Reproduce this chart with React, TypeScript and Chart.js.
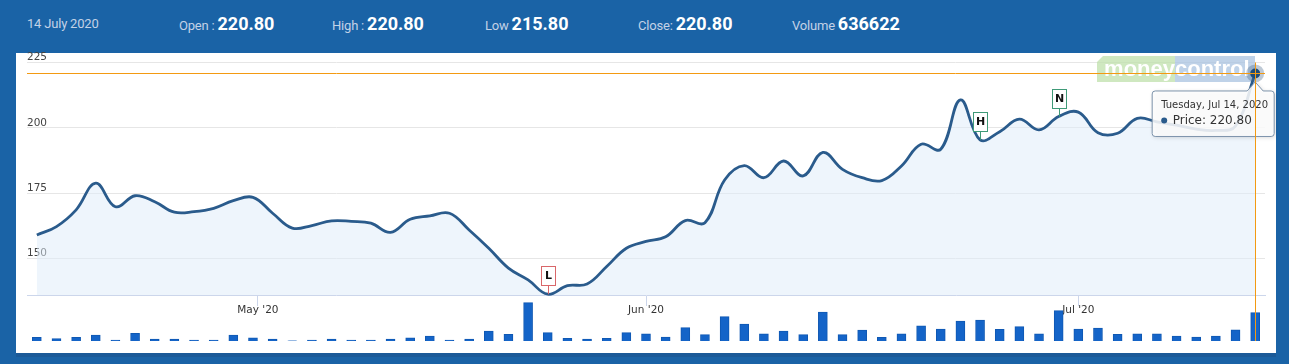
import React, { useEffect, useRef } from 'react';
import { Chart, registerables } from 'chart.js';

Chart.register(...registerables);

// ---------- data ----------
const tradingDates: string[] = [
  '2020-04-15', '2020-04-16', '2020-04-17', '2020-04-20', '2020-04-21', '2020-04-22', '2020-04-23', '2020-04-24',
  '2020-04-27', '2020-04-28', '2020-04-29', '2020-04-30',
  '2020-05-04', '2020-05-05', '2020-05-06', '2020-05-07', '2020-05-08', '2020-05-11', '2020-05-12', '2020-05-13',
  '2020-05-14', '2020-05-15', '2020-05-18', '2020-05-19', '2020-05-20', '2020-05-21', '2020-05-22', '2020-05-26',
  '2020-05-27', '2020-05-28', '2020-05-29',
  '2020-06-01', '2020-06-02', '2020-06-03', '2020-06-04', '2020-06-05', '2020-06-08', '2020-06-09', '2020-06-10',
  '2020-06-11', '2020-06-12', '2020-06-15', '2020-06-16', '2020-06-17', '2020-06-18', '2020-06-19', '2020-06-22',
  '2020-06-23', '2020-06-24', '2020-06-25', '2020-06-26', '2020-06-29', '2020-06-30',
  '2020-07-01', '2020-07-02', '2020-07-03', '2020-07-06', '2020-07-07', '2020-07-08', '2020-07-09', '2020-07-10',
  '2020-07-13', '2020-07-14',
];

const closePrices: number[] = [
  159.0, 162.2, 168.6, 178.8, 169.8, 174.0, 171.7, 167.7, 167.9, 169.2, 172.1, 173.4,
  167.3, 161.6, 162.6, 164.4, 164.2, 163.5, 160.0, 165.0, 166.3, 167.3, 160.9, 153.9,
  146.3, 141.8, 136.3, 139.6, 140.2, 146.9, 153.9,
  156.5, 158.3, 164.5, 163.7, 180.0, 185.5, 180.9, 187.3, 181.6, 190.6, 184.1, 180.9,
  179.8, 185.4, 193.7, 191.8, 210.7, 195.4, 198.5, 203.3, 199.2, 204.3,
  206.0, 198.1, 197.9, 203.6, 202.3, 201.0, 199.5, 199.0, 200.7, 220.8,
];

const volumes: number[] = [
  83000, 52000, 83000, 135000, 22000, 173000, 45000, 45000, 22000, 22000, 135000, 74000,
  45000, 3000, 22000, 45000, 22000, 22000, 45000, 74000, 112000, 22000, 45000, 225000,
  150000, 862000, 187000, 60000, 45000, 60000, 187000,
  164000, 90000, 300000, 142000, 547000, 382000, 164000, 225000, 142000, 652000, 142000, 247000,
  83000, 164000, 344000, 270000, 450000, 472000, 263000, 322000, 164000, 682000,
  270000, 292000, 150000, 164000, 164000, 112000, 90000, 112000, 254000, 636622,
];

const priceTicks: number[] = [150, 175, 200, 225];
const monthStarts: string[] = ['2020-05-01', '2020-06-01', '2020-07-01'];
const monthLabels: string[] = ["May '20", "Jun '20", "Jul '20"];

const markerDates: string[] = ['2020-05-22', '2020-06-24', '2020-06-30'];
const markerLetters: string[] = ['L', 'H', 'N'];

const headerDate = '14 July 2020';
const statLabels: string[] = ['Open :', 'High :', 'Low', 'Close:', 'Volume'];
const statValues: string[] = ['220.80', '220.80', '215.80', '220.80', '636622'];

const PRICE_FLOOR = 136;
const PRICE_MIN = 118.4;
const PRICE_MAX = 225;
const VOLUME_MAX = 6265000;

// ---------- styles ----------
const BLUE = '#1a63a6';
const LINE = '#2a5b8c';
const ORANGE = '#f39a12';
const markerColors = ['#d9676a', '#3f9a78', '#3f9a78'];
const statLeft = [179, 332, 485, 638, 792];

const weekdays = ['Sunday', 'Monday', 'Tuesday', 'Wednesday', 'Thursday', 'Friday', 'Saturday'];
const monthsShort = ['Jan', 'Feb', 'Mar', 'Apr', 'May', 'Jun', 'Jul', 'Aug', 'Sep', 'Oct', 'Nov', 'Dec'];

const toTime = (d: string) => Date.parse(d + 'T00:00:00Z');

export default function App() {
  const ref = useRef<HTMLCanvasElement>(null);

  useEffect(() => {
    const canvas = ref.current;
    if (!canvas) return;

    const monthPos = monthStarts.map((m) => {
      const t = toTime(m);
      const k = tradingDates.findIndex((d) => toTime(d) >= t);
      if (k <= 0 || toTime(tradingDates[k]) === t) return k;
      const a = toTime(tradingDates[k - 1]);
      const b = toTime(tradingDates[k]);
      return k - 1 + (t - a) / (b - a);
    });

    const lastIdx = closePrices.length - 1;
    const lastDate = new Date(toTime(tradingDates[lastIdx]));
    const tipTitle = `${weekdays[lastDate.getUTCDay()]}, ${monthsShort[lastDate.getUTCMonth()]} ${lastDate.getUTCDate()}, ${lastDate.getUTCFullYear()}`;
    const tipBody = `Price: ${closePrices[lastIdx].toFixed(2)}`;

    const overlay = {
      id: 'overlay',
      beforeDatasetsDraw(chart: any) {
        const ctx = chart.ctx as CanvasRenderingContext2D;
        const ca = chart.chartArea;
        const right = ca.right - 10;
        const top = ca.top - 6.5;
        const h = 26;
        ctx.save();
        ctx.globalAlpha = 0.75;
        ctx.fillStyle = '#bfe0ab';
        ctx.beginPath();
        ctx.moveTo(right - 158 + 6, top);
        ctx.lineTo(right - 80, top);
        ctx.lineTo(right - 80, top + h);
        ctx.lineTo(right - 158, top + h);
        ctx.lineTo(right - 158, top + 6);
        ctx.closePath();
        ctx.fill();
        ctx.fillStyle = '#a9c3e0';
        ctx.fillRect(right - 80, top, 80, h);
        ctx.globalAlpha = 1;
        ctx.fillStyle = '#ffffff';
        ctx.font = 'bold 22px "Liberation Sans", Arial, sans-serif';
        ctx.textBaseline = 'middle';
        ctx.textAlign = 'right';
        ctx.fillText('money', right - 80, top + h / 2 + 1);
        ctx.textAlign = 'left';
        ctx.fillText('control', right - 80, top + h / 2 + 1);
        ctx.restore();
      },
      afterDatasetsDraw(chart: any) {
        const ctx = chart.ctx as CanvasRenderingContext2D;
        const meta = chart.getDatasetMeta(0);
        ctx.save();
        markerDates.forEach((d, j) => {
          const i = tradingDates.indexOf(d);
          if (i < 0) return;
          const pt = meta.data[i];
          const x = Math.round(pt.x) + 0.5;
          const bottom = Math.round(pt.y - 9) + 0.5;
          const w = 14;
          const hh = 19;
          ctx.strokeStyle = markerColors[j];
          ctx.lineWidth = 1;
          ctx.beginPath();
          ctx.moveTo(x, bottom);
          ctx.lineTo(x, pt.y);
          ctx.stroke();
          ctx.fillStyle = '#ffffff';
          ctx.fillRect(x - w / 2, bottom - hh, w, hh);
          ctx.strokeRect(x - w / 2, bottom - hh, w, hh);
          ctx.fillStyle = '#111';
          ctx.font = 'bold 11px "DejaVu Sans", sans-serif';
          ctx.textAlign = 'center';
          ctx.textBaseline = 'middle';
          ctx.fillText(markerLetters[j], x, bottom - hh / 2 + 0.5);
        });
        ctx.restore();
      },
      afterDraw(chart: any) {
        const ctx = chart.ctx as CanvasRenderingContext2D;
        const ca = chart.chartArea;
        const pt = chart.getDatasetMeta(0).data[lastIdx];
        const px = pt.x;
        const py = pt.y;

        // tooltip
        const left = px - 103;
        const right = px + 19;
        const top = py + 17.5;
        const bottom = py + 63;
        const r = 3;
        ctx.save();
        ctx.shadowColor = 'rgba(0,0,0,0.18)';
        ctx.shadowBlur = 4;
        ctx.shadowOffsetX = 1;
        ctx.shadowOffsetY = 1;
        ctx.beginPath();
        ctx.moveTo(left + r, top);
        ctx.lineTo(px - 8, top);
        ctx.lineTo(px, top - 9);
        ctx.lineTo(px + 8, top);
        ctx.lineTo(right - r, top);
        ctx.quadraticCurveTo(right, top, right, top + r);
        ctx.lineTo(right, bottom - r);
        ctx.quadraticCurveTo(right, bottom, right - r, bottom);
        ctx.lineTo(left + r, bottom);
        ctx.quadraticCurveTo(left, bottom, left, bottom - r);
        ctx.lineTo(left, top + r);
        ctx.quadraticCurveTo(left, top, left + r, top);
        ctx.closePath();
        ctx.fillStyle = 'rgba(255,255,255,0.86)';
        ctx.fill();
        ctx.shadowColor = 'rgba(0,0,0,0)';
        ctx.shadowBlur = 0;
        ctx.shadowOffsetX = 0;
        ctx.shadowOffsetY = 0;
        ctx.strokeStyle = '#7d93ab';
        ctx.lineWidth = 1;
        ctx.stroke();
        ctx.fillStyle = '#333';
        ctx.textAlign = 'left';
        ctx.textBaseline = 'middle';
        ctx.font = '10px "DejaVu Sans", sans-serif';
        ctx.fillText(tipTitle, left + 9, top + 14);
        ctx.fillStyle = LINE;
        ctx.beginPath();
        ctx.arc(left + 12, top + 29.5, 3, 0, Math.PI * 2);
        ctx.fill();
        ctx.fillStyle = '#333';
        ctx.font = '12px "DejaVu Sans", sans-serif';
        ctx.fillText(tipBody, left + 20.5, top + 30);

        // highlighted point
        ctx.fillStyle = 'rgba(70,100,135,0.35)';
        ctx.beginPath();
        ctx.arc(px, py, 9, 0, Math.PI * 2);
        ctx.fill();
        ctx.fillStyle = '#1f4c7a';
        ctx.beginPath();
        ctx.arc(px, py, 5, 0, Math.PI * 2);
        ctx.fill();

        // crosshair
        ctx.globalAlpha = 1;
        ctx.strokeStyle = ORANGE;
        ctx.lineWidth = 1;
        const hy = Math.floor(py) + 0.5;
        const vx = Math.floor(px) + 0.5;
        ctx.beginPath();
        ctx.moveTo(ca.left, hy);
        ctx.lineTo(ca.right, hy);
        ctx.stroke();
        ctx.beginPath();
        ctx.moveTo(vx, ca.top);
        ctx.lineTo(vx, ca.bottom);
        ctx.stroke();
        ctx.restore();
      },
    };

    const axisFont = { family: '"DejaVu Sans", sans-serif', size: 10.5 };

    const chart = new Chart(canvas, {
      type: 'line',
      data: {
        datasets: [
          {
            type: 'line',
            label: 'Price',
            data: closePrices.map((p, i) => ({ x: i, y: p })),
            yAxisID: 'y',
            borderColor: LINE,
            borderWidth: 2.8,
            tension: 0.4,
            pointRadius: 0,
            fill: { value: PRICE_FLOOR },
            backgroundColor: 'rgba(222,236,250,0.5)',
            order: 0,
          } as any,
          {
            type: 'bar',
            label: 'Volume',
            data: volumes.map((v, i) => ({ x: i, y: v })),
            yAxisID: 'yv',
            backgroundColor: '#1464c8',
            borderColor: '#0f58b3',
            borderWidth: 1,
            barThickness: 9,
            order: 1,
          } as any,
        ],
      },
      options: {
        responsive: false,
        animation: false,
        events: [],
        layout: { padding: { left: 27, right: 24, top: 62.5, bottom: 23 } },
        plugins: { legend: { display: false }, tooltip: { enabled: false } },
        scales: {
          x: {
            type: 'linear',
            offset: false,
            min: -0.5,
            max: closePrices.length - 0.5,
            position: { y: PRICE_FLOOR } as any,
            afterBuildTicks: (scale: any) => {
              scale.ticks = monthPos.map((v) => ({ value: v }));
            },
            ticks: {
              autoSkip: false,
              maxRotation: 0,
              padding: -1,
              color: '#333',
              font: axisFont,
              callback: (value: any) => {
                const j = monthPos.findIndex((p) => Math.abs(p - Number(value)) < 1e-6);
                return j >= 0 ? monthLabels[j] : '';
              },
            },
            grid: { display: true, offset: false, drawOnChartArea: false, drawTicks: true, tickLength: 10, color: '#ccd6eb' },
            border: { display: true, color: '#ccd6eb' },
          },
          y: {
            type: 'linear',
            position: 'left',
            min: PRICE_MIN,
            max: PRICE_MAX,
            afterBuildTicks: (scale: any) => {
              scale.ticks = priceTicks.map((v) => ({ value: v }));
            },
            ticks: { mirror: true, padding: 0, labelOffset: -5, color: '#444', font: axisFont },
            grid: { color: '#e6e6e6', drawTicks: false },
            border: { display: false },
          },
          yv: { type: 'linear', position: 'right', min: 0, max: VOLUME_MAX, display: false },
        },
      } as any,
      plugins: [overlay],
    });

    return () => chart.destroy();
  }, []);

  return (
    <div style={{ position: 'fixed', left: 0, top: 0, width: 1289, height: 364, background: BLUE, overflow: 'hidden', fontFamily: 'Roboto, sans-serif' }}>
      <div style={{ position: 'absolute', left: 16, top: 53, width: 1260, height: 300, background: '#ffffff' }} />
      <div style={{ position: 'absolute', left: 16, top: 353, width: 1260, height: 4, background: '#1b5a98' }} />
      <div style={{ position: 'absolute', left: 27, top: 16, fontSize: 13, lineHeight: '16px', color: '#c3d2e6', letterSpacing: -0.2 }}>{headerDate}</div>
      {statLabels.map((lab, i) => (
        <div key={lab} style={{ position: 'absolute', left: statLeft[i], top: 13, display: 'flex', alignItems: 'baseline', whiteSpace: 'pre' }}>
          <span style={{ fontSize: 13, color: '#c3d2e6', letterSpacing: -0.2 }}>{lab + ' '}</span>
          <span style={{ fontSize: 18, fontWeight: 700, color: '#ffffff' }}>{statValues[i]}</span>
        </div>
      ))}
      <canvas ref={ref} width={1289} height={364} style={{ position: 'absolute', left: 0, top: 0, width: 1289, height: 364 }} />
    </div>
  );
}
